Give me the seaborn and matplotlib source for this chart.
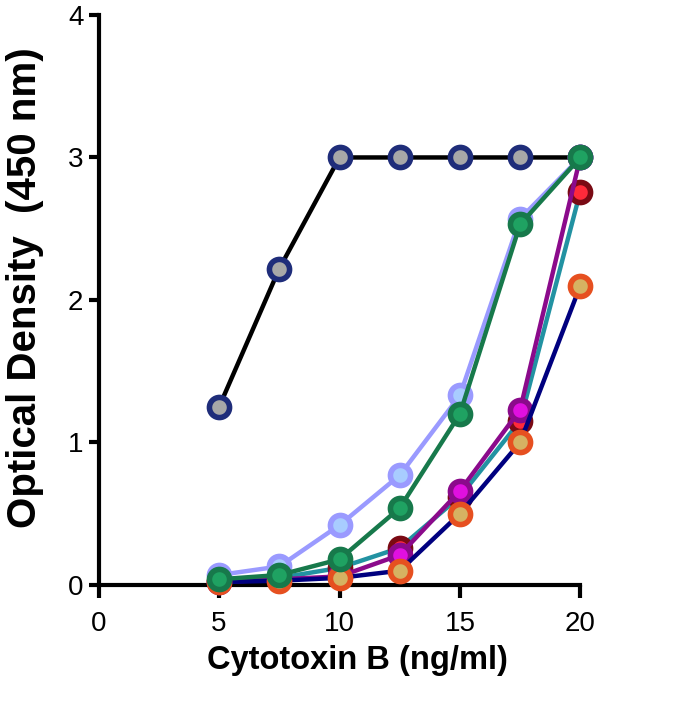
import matplotlib
matplotlib.use("Agg")
import matplotlib.pyplot as plt
import seaborn as sns
import pandas as pd

sns.set_style("ticks")
plt.rcParams['font.family'] = ['Liberation Sans', 'DejaVu Sans']
plt.rcParams['text.color'] = 'black'
plt.rcParams['axes.labelcolor'] = 'black'
plt.rcParams['axes.edgecolor'] = 'black'

dose = [5, 7.5, 10, 12.5, 15, 17.5, 20]
series_names = ["A", "B", "C", "D", "E", "F"]
od_a = [1.25, 2.22, 3.0, 3.0, 3.0, 3.0, 3.0]
od_b = [0.07, 0.13, 0.42, 0.77, 1.33, 2.57, 3.0]
od_c = [0.04, 0.07, 0.18, 0.54, 1.20, 2.53, 3.0]
od_d = [0.03, 0.05, 0.12, 0.26, 0.62, 1.15, 2.76]
od_e = [0.02, 0.04, 0.06, 0.21, 0.66, 1.23, 3.0]
od_f = [0.02, 0.03, 0.05, 0.10, 0.50, 1.00, 2.10]

values = [od_a, od_b, od_d, od_e, od_f, od_c]
order_names = ["A", "B", "D", "E", "F", "C"]
styles = {
    "A": dict(line="#000000", face="#a8a8a8", edge="#1f2d7a"),
    "B": dict(line="#9a9aff", face="#a8ccff", edge="#9a9aff"),
    "C": dict(line="#17794b", face="#1fa262", edge="#17794b"),
    "D": dict(line="#2292a2", face="#ff2a3a", edge="#7a0a14"),
    "E": dict(line="#8b0a8b", face="#e010e0", edge="#8b0a8b"),
    "F": dict(line="#00007f", face="#d6b262", edge="#e65020"),
}

fig = plt.figure(figsize=(7.0, 7.02), dpi=100)
ax = fig.add_axes([0.141, 0.1667, 0.688, 0.812])

for name, vals in zip(order_names, values):
    st = styles[name]
    df = pd.DataFrame({"dose": dose, "od": vals})
    sns.lineplot(data=df, x="dose", y="od", ax=ax, color=st["line"], linewidth=3.2,
                 marker="o", markersize=14.5, markerfacecolor=st["face"],
                 markeredgecolor=st["edge"], markeredgewidth=4.0, clip_on=False,
                 zorder=3)

ax.set_xlim(0, 20)
ax.set_ylim(0, 4)
ax.set_xticks([0, 5, 10, 15, 20])
ax.set_yticks([0, 1, 2, 3, 4])
sns.despine(ax=ax)
for s in ["left", "bottom"]:
    ax.spines[s].set_linewidth(3.0)
    ax.spines[s].set_color("black")
ax.tick_params(axis="x", width=3.0, length=9, labelsize=20, pad=10, colors="black")
ax.tick_params(axis="y", width=3.0, length=7, labelsize=20, pad=4, colors="black")
ax.set_xlabel("Cytotoxin B (ng/ml)", fontsize=23.5, fontweight="bold")
ax.set_ylabel("Optical Density  (450 nm)", fontsize=29, fontweight="bold")
ax.xaxis.set_label_coords(0.537, -0.132)
ax.yaxis.set_label_coords(-0.152, 0.521)
ax.xaxis.label.set_verticalalignment("center")
ax.yaxis.label.set_verticalalignment("center")

fig.savefig("out.png", dpi=100)
